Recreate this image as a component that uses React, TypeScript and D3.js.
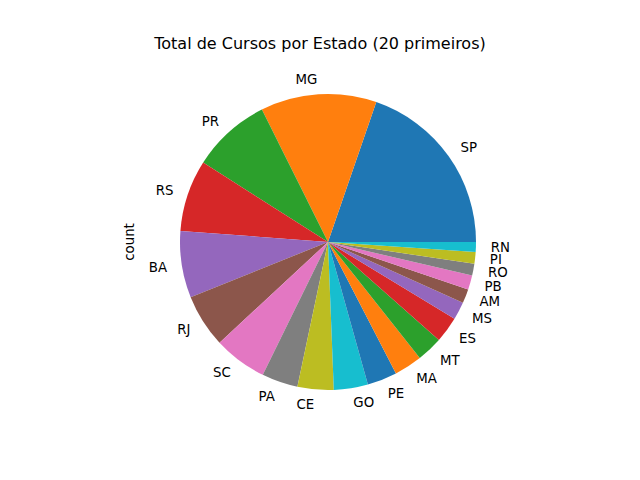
import React from "react";
import * as d3 from "d3";

const states = ["SP","MG","PR","RS","BA","RJ","SC","PA","CE","GO","PE","MA","MT","ES","MS","AM","PB","RO","PI","RN"];
const counts = [71,45.6,31,28.2,26.2,21,21,14.2,14.2,13.4,11.7,11,10.2,10.2,7,5.6,5.6,4.6,4.6,3.9];
const palette = ["#1f77b4","#ff7f0e","#2ca02c","#d62728","#9467bd","#8c564b","#e377c2","#7f7f7f","#bcbd22","#17becf"];

export default function App() {
  const cx = 328, cy = 242, r = 148;
  const total = d3.sum(counts);
  const angle = d3.scaleLinear().domain([0, total]).range([0, 2 * Math.PI]);
  let acc = 0;
  const slices = counts.map((v, i) => {
    const a0 = angle(acc); acc += v; const a1 = angle(acc);
    return { i, a0, a1 };
  });
  const pt = (a: number, rr: number) => [cx + rr * Math.cos(a), cy - rr * Math.sin(a)];
  return (
    <svg width={640} height={480} style={{ position: "absolute", left: 0, top: 0, background: "#fff" }} fontFamily="DejaVu Sans">
      {slices.map(s => {
        const [x0, y0] = pt(s.a0, r), [x1, y1] = pt(s.a1, r);
        const large = s.a1 - s.a0 > Math.PI ? 1 : 0;
        return <path key={s.i} d={`M${cx},${cy}L${x0},${y0}A${r},${r} 0 ${large} 0 ${x1},${y1}Z`} fill={palette[s.i % 10]} />;
      })}
      {slices.map(s => {
        const m = (s.a0 + s.a1) / 2;
        const [x, y] = pt(m, r * 1.1);
        return <text key={s.i} x={x} y={y} dy="0.35em" fontSize={13.33} textAnchor={Math.cos(m) >= 0 ? "start" : "end"}>{states[s.i]}</text>;
      })}
      <text x={320} y={49} textAnchor="middle" fontSize={16}>Total de Cursos por Estado (20 primeiros)</text>
      <text transform={`translate(134,242) rotate(-90)`} textAnchor="middle" fontSize={13.33}>count</text>
    </svg>
  );
}
